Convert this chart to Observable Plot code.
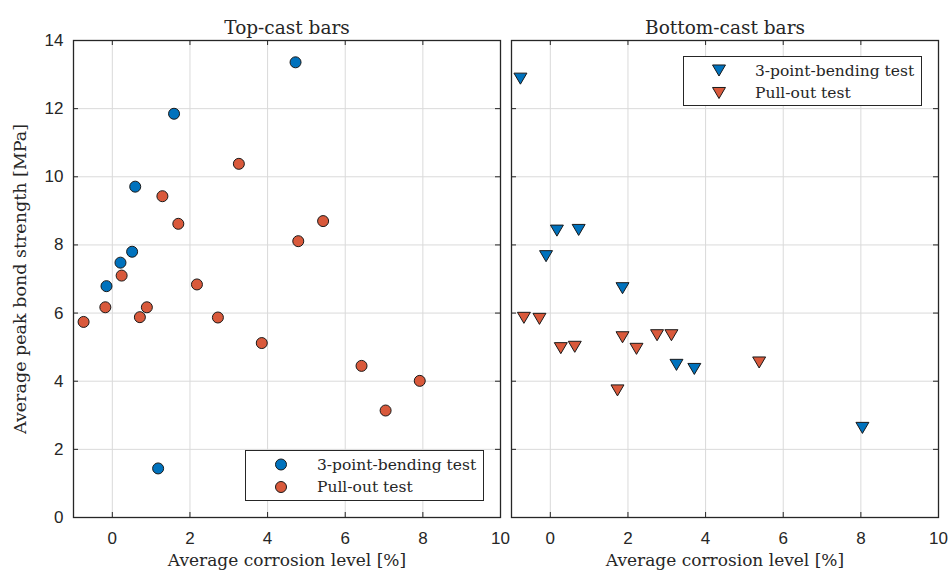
<!DOCTYPE html>
<html>
<head>
<meta charset="utf-8">
<script src="https://cdn.jsdelivr.net/npm/d3@7"></script>
<script src="https://cdn.jsdelivr.net/npm/@observablehq/plot@0.6"></script>
<style>
  html, body { margin: 0; padding: 0; background: #fff; }
  #wrap { position: relative; width: 951px; height: 575px; }
  .panel { position: absolute; top: 0; }
  .legend { position: absolute; border: 1.2px solid #262626; background: #fff; box-sizing: border-box; }
</style>
</head>
<body>
<div id="wrap"></div>
<script>
// ---- data ----
const xTicks = [0, 2, 4, 6, 8, 10];
const yTicks = [0, 2, 4, 6, 8, 10, 12, 14];
const seriesNames = ["3-point-bending test", "Pull-out test"];
const seriesColors = ["#0072BD", "#D9593B"];
const panelTitles = ["Top-cast bars", "Bottom-cast bars"];

const topBendX = [4.72, 1.59, 0.59, 0.51, 0.21, -0.15, 1.18];
const topBendY = [13.36, 11.85, 9.71, 7.80, 7.48, 6.79, 1.44];
const topPullX = [3.26, 1.29, 1.70, 5.43, 4.79, 0.24, 2.18, -0.18, 0.89, 0.71, -0.74, 2.72, 3.85, 6.42, 7.92, 7.04];
const topPullY = [10.38, 9.43, 8.62, 8.70, 8.11, 7.10, 6.84, 6.17, 6.17, 5.88, 5.74, 5.87, 5.12, 4.45, 4.01, 3.14];
const botBendX = [-0.77, 0.17, 0.73, -0.11, 1.86, 3.25, 3.71, 8.04];
const botBendY = [12.88, 8.42, 8.44, 7.67, 6.73, 4.48, 4.36, 2.63];
const botPullX = [-0.68, -0.28, 0.27, 0.63, 1.86, 2.22, 2.75, 3.12, 1.73, 5.38];
const botPullY = [5.86, 5.83, 4.97, 5.01, 5.29, 4.95, 5.35, 5.35, 3.73, 4.55];

const toRows = (xs, ys, s) => xs.map((x, i) => ({x, y: ys[i], s}));

const triDown = {
  draw(ctx, size) {
    const r = Math.sqrt(size / Math.PI);
    ctx.moveTo(-1.08 * r, -0.92 * r);
    ctx.lineTo(1.08 * r, -0.92 * r);
    ctx.lineTo(0, 0.92 * r);
    ctx.closePath();
  }
};

const serif = "'DejaVu Serif', serif";
const sans = "'Liberation Sans', Arial, sans-serif";
const H = 575, MT = 40, MB = 58;
const FH = H - MT - MB;

function panel({width, ml, mr, title, rows, symbol, r, showY}) {
  const FW = width - ml - mr;
  const marks = [
    Plot.gridX(xTicks, {stroke: "#dadada", strokeOpacity: 1, strokeWidth: 1}),
    Plot.gridY(yTicks, {stroke: "#dadada", strokeOpacity: 1, strokeWidth: 1}),
    Plot.gridX(xTicks, {stroke: "#262626", strokeOpacity: 1, insetTop: FH - 5}),
    Plot.gridX(xTicks, {stroke: "#262626", strokeOpacity: 1, insetBottom: FH - 5}),
    Plot.gridY(yTicks, {stroke: "#262626", strokeOpacity: 1, insetRight: FW - 5}),
    Plot.gridY(yTicks, {stroke: "#262626", strokeOpacity: 1, insetLeft: FW - 5}),
    Plot.frame({stroke: "#262626", strokeWidth: 1.3}),
    Plot.dot(rows, {x: "x", y: "y", fill: "s", stroke: "#1a1a1a", strokeWidth: 1, r, symbol}),
    Plot.axisX({ticks: xTicks, tickSize: 0, tickPadding: 14, label: null, fontSize: 17, fontFamily: sans, fill: "#262626"}),
    Plot.text([title], {frameAnchor: "top", dy: -20, fontFamily: serif, fontSize: 18.5, fill: "#262626"}),
    Plot.text(["Average corrosion level [%]"], {frameAnchor: "bottom", dy: 48, fontFamily: serif, fontSize: 17, fill: "#262626"})
  ];
  if (showY) {
    marks.push(Plot.axisY({ticks: yTicks, tickSize: 0, tickPadding: 10, label: null, fontSize: 17, fontFamily: sans, fill: "#262626"}));
    marks.push(Plot.text(["Average peak bond strength [MPa]"], {frameAnchor: "left", textAnchor: "middle", dx: -53, rotate: -90, fontFamily: serif, fontSize: 17.5, fill: "#262626"}));
  } else {
    marks.push(Plot.axisY({ticks: [], tickSize: 0, label: null}));
  }
  return Plot.plot({
    width, height: H,
    marginLeft: ml, marginRight: mr, marginTop: MT, marginBottom: MB,
    x: {domain: [-1, 10]},
    y: {domain: [0, 14]},
    color: {domain: seriesNames, range: seriesColors},
    style: {overflow: "visible", background: "transparent"},
    marks
  });
}

const wrap = document.getElementById("wrap");

const left = panel({
  width: 505, ml: 73, mr: 5, title: panelTitles[0],
  rows: [...toRows(topBendX, topBendY, seriesNames[0]), ...toRows(topPullX, topPullY, seriesNames[1])],
  symbol: "circle", r: 5.5, showY: true
});
left.classList.add("panel"); left.style.left = "0px";
wrap.appendChild(left);

const right = panel({
  width: 446, ml: 6, mr: 13, title: panelTitles[1],
  rows: [...toRows(botBendX, botBendY, seriesNames[0]), ...toRows(botPullX, botPullY, seriesNames[1])],
  symbol: triDown, r: 6, showY: false
});
right.classList.add("panel"); right.style.left = "505px";
wrap.appendChild(right);

// ---- legends ----
function legend({left, top, w, h, kind}) {
  const div = document.createElement("div");
  div.className = "legend";
  Object.assign(div.style, {left: left + "px", top: top + "px", width: w + "px", height: h + "px"});
  const svg = d3.create("svg").attr("width", w).attr("height", h).style("position", "absolute").style("left", "-1px").style("top", "-1px");
  const rowsY = [14.5, 37];
  seriesNames.forEach((name, i) => {
    const cx = 36, cy = rowsY[i];
    if (kind === "circle") {
      svg.append("circle").attr("cx", cx).attr("cy", cy).attr("r", 5.5)
        .attr("fill", seriesColors[i]).attr("stroke", "#1a1a1a").attr("stroke-width", 1);
    } else {
      const r = 6;
      svg.append("path").attr("d", `M${cx - 1.08 * r},${cy - 0.92 * r}L${cx + 1.08 * r},${cy - 0.92 * r}L${cx},${cy + 0.92 * r}Z`)
        .attr("fill", seriesColors[i]).attr("stroke", "#1a1a1a").attr("stroke-width", 1);
    }
    svg.append("text").attr("x", 72).attr("y", cy).attr("dy", "0.35em")
      .attr("font-family", serif).attr("font-size", 15.5).attr("fill", "#262626").text(name);
  });
  div.appendChild(svg.node());
  wrap.appendChild(div);
}
legend({left: 245, top: 450, w: 239, h: 51, kind: "circle"});
legend({left: 683, top: 56, w: 239, h: 50, kind: "tri"});
</script>
</body>
</html>
